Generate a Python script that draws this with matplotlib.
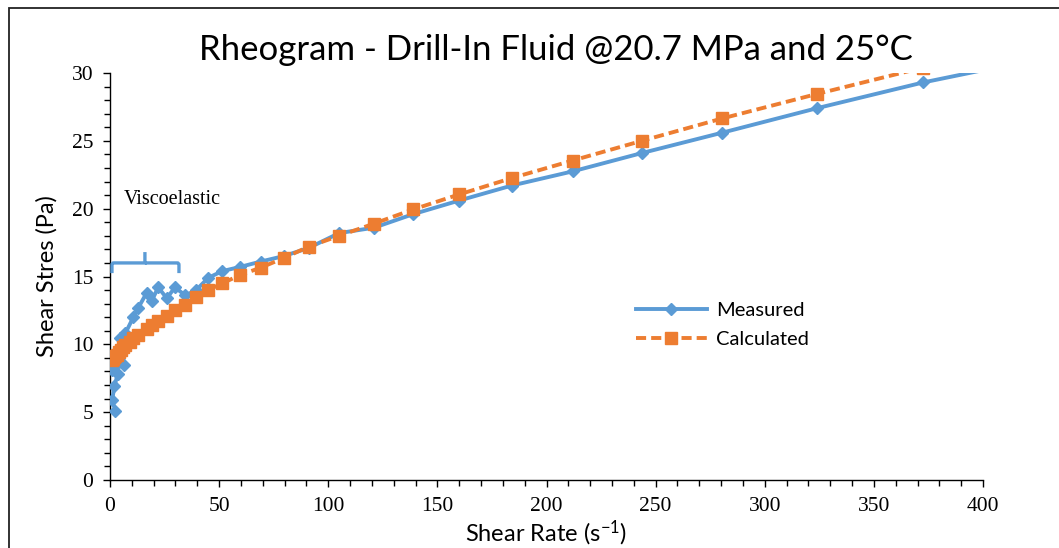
import matplotlib
matplotlib.use("Agg")
import matplotlib.pyplot as plt
from matplotlib.patches import Rectangle
from matplotlib.path import Path
from matplotlib.patches import PathPatch
from matplotlib.ticker import MultipleLocator

# ---- data ----
measured_x = [2.5, 1.0, 2.0, 3.5, 1.0, 6.5, 4.5, 7.0, 10.7, 13.0, 16.8, 19.1, 22.1, 26.0,
              29.8, 34.5, 39.5, 45.0, 51.5, 59.5, 69.0, 79.5, 91.0, 105.0, 121.0, 139.0,
              160.0, 184.0, 212.0, 243.7, 280.5, 323.8, 372.5, 430.0]
measured_y = [5.1, 5.9, 6.9, 7.8, 8.1, 8.5, 10.5, 10.8, 12.0, 12.7, 13.8, 13.2, 14.2, 13.4,
              14.2, 13.6, 14.0, 14.9, 15.4, 15.7, 16.1, 16.5, 17.1, 18.2, 18.6, 19.6,
              20.6, 21.7, 22.75, 24.1, 25.6, 27.4, 29.3, 31.2]

calc_x = [1.0, 1.5, 2.0, 2.5, 3.0, 4.0, 5.0, 6.0, 7.0, 9.0, 10.7, 13.0, 16.8, 19.1, 22.1,
          26.0, 29.8, 34.5, 39.5, 45.0, 51.5, 59.5, 69.0, 79.5, 91.0, 105.0, 121.0, 139.0,
          160.0, 184.0, 212.0, 243.7, 280.5, 323.8, 372.5, 430.0]
calc_y = [8.85, 8.95, 9.05, 9.15, 9.25, 9.45, 9.6, 9.8, 9.95, 10.2, 10.45, 10.7, 11.1, 11.4,
          11.7, 12.1, 12.5, 12.9, 13.5, 14.0, 14.5, 15.1, 15.65, 16.35, 17.2, 18.0, 18.9,
          19.95, 21.05, 22.25, 23.55, 25.0, 26.65, 28.45, 30.4, 32.5]

BLUE = "#5B9BD5"
ORANGE = "#ED7D31"
SANS = ["Lato", "DejaVu Sans"]
SERIF = "Liberation Serif"

plt.rcParams["mathtext.fontset"] = "custom"
plt.rcParams["mathtext.rm"] = "Lato"
plt.rcParams["mathtext.it"] = "Lato:italic"

fig = plt.figure(figsize=(10.59, 5.48), dpi=100)
W, H = 1059, 548
ax = fig.add_axes([110 / W, (H - 480) / H, (983 - 110) / W, (480 - 73) / H])

ax.plot(measured_x, measured_y, color=BLUE, lw=2.8, marker="D", ms=6.6,
        mfc=BLUE, mec=BLUE, label="Measured", zorder=3)
ax.plot(calc_x, calc_y, color=ORANGE, lw=2.8, ls=(0, (2.6, 1.3)), marker="s", ms=9,
        mfc=ORANGE, mec=ORANGE, label="Calculated", zorder=4)

ax.set_xlim(0, 400)
ax.set_ylim(0, 30)
ax.xaxis.set_major_locator(MultipleLocator(50))
ax.xaxis.set_minor_locator(MultipleLocator(10))
ax.yaxis.set_major_locator(MultipleLocator(5))
ax.yaxis.set_minor_locator(MultipleLocator(1))
for s in ["top", "right"]:
    ax.spines[s].set_visible(False)
for s in ["left", "bottom"]:
    ax.spines[s].set_color("black")
    ax.spines[s].set_linewidth(1.0)
ax.tick_params(which="major", direction="out", length=5, width=1.0, color="black",
               labelsize=15.5, pad=7)
ax.tick_params(which="minor", direction="out", length=4, width=1.0, color="black")
for lab in ax.get_xticklabels() + ax.get_yticklabels():
    lab.set_fontfamily(SERIF)

ax.set_xlabel("Shear Rate (s$^{-1}$)", fontsize=17, family=SANS, labelpad=2)
ax.set_ylabel("Shear Stres (Pa)", fontsize=17, family=SANS, labelpad=10)

fig.text(556 / W, 1 - 50 / H, "Rheogram - Drill-In Fluid @20.7 MPa and 25°C",
         ha="center", va="center", fontsize=25, family=SANS)

ax.text(6.5, 20.7, "Viscoelastic", fontsize=14.5, family=SERIF, ha="left", va="center")

# bracket
bx0, bx1, bm = 0.9, 31.6, 16.0
by, bend, btop = 16.0, 15.25, 16.8
r = 0.8
verts = [(bx0, bend), (bx0, by - 0.15), (bx0, by), (bx0 + r, by), (bm, by), (bm, btop),
         (bm, by), (bx1 - r, by), (bx1, by), (bx1, by - 0.15), (bx1, bend)]
codes = [Path.MOVETO, Path.LINETO, Path.CURVE3, Path.CURVE3, Path.LINETO, Path.LINETO,
         Path.MOVETO, Path.LINETO, Path.CURVE3, Path.CURVE3, Path.LINETO]
ax.add_patch(PathPatch(Path(verts, codes), fill=False, edgecolor=BLUE, lw=2.4,
                       clip_on=False, zorder=5))

leg = ax.legend(loc="upper left", bbox_to_anchor=(618 / W, 1 - 284 / H),
                bbox_transform=fig.transFigure, frameon=False,
                handlelength=3.5, numpoints=1, labelspacing=0.6, handletextpad=0.45,
                prop={"family": SANS, "size": 14.5})

# outer chart border (left and top visible)
fig.add_artist(Rectangle((9 / W, -0.05), 1.2, 1 - 8 / H + 0.05, transform=fig.transFigure,
                         fill=False, edgecolor="#222222", lw=1.3))

fig.savefig("out.png", dpi=100)
